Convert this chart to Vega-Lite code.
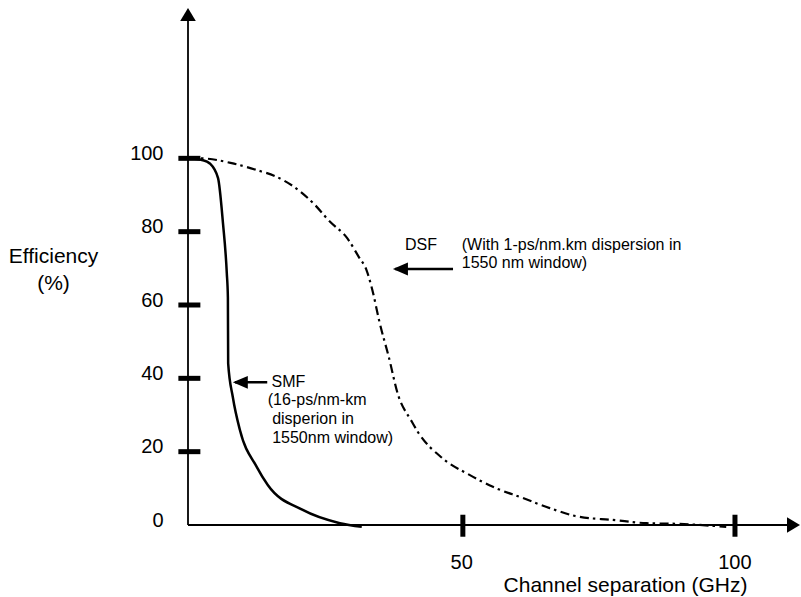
{
  "$schema": "https://vega.github.io/schema/vega-lite/v6.json",
  "width": 612,
  "height": 517,
  "autosize": {"type": "none"},
  "padding": {"left": 188, "top": 8, "right": 1, "bottom": 72},
  "background": "white",
  "config": {
    "view": {"stroke": null},
    "font": "Liberation Sans",
    "text": {"font": "Liberation Sans"}
  },
  "datasets": {
    "smf": [
      {"x": 0, "y": 100}, {"x": 2.7, "y": 99.5}, {"x": 4.0, "y": 98.6}, {"x": 5.5, "y": 94.6},
      {"x": 6.4, "y": 82.3}, {"x": 7.1, "y": 68.7}, {"x": 7.3, "y": 62.1}, {"x": 7.35, "y": 44.1},
      {"x": 8.2, "y": 34.9}, {"x": 9.5, "y": 25.9}, {"x": 12.6, "y": 15.8}, {"x": 14.6, "y": 10.9},
      {"x": 21.0, "y": 4.1}, {"x": 27.8, "y": 0.5}, {"x": 31.8, "y": -0.5}
    ],
    "dsf": [
      {"x": 0, "y": 100}, {"x": 2.2, "y": 100}, {"x": 8.0, "y": 98.7}, {"x": 12.6, "y": 96.8},
      {"x": 16.3, "y": 94.9}, {"x": 19.9, "y": 91.7}, {"x": 22.9, "y": 87.8}, {"x": 26.0, "y": 82.7},
      {"x": 29.1, "y": 78.3}, {"x": 31.3, "y": 73.0}, {"x": 32.6, "y": 69.8}, {"x": 33.7, "y": 64.3},
      {"x": 35.1, "y": 55.0}, {"x": 36.8, "y": 45.5}, {"x": 38.3, "y": 36.2}, {"x": 41.0, "y": 28.1},
      {"x": 42.1, "y": 25.3}, {"x": 46.5, "y": 18.3}, {"x": 51.6, "y": 13.6}, {"x": 55.8, "y": 10.4},
      {"x": 61.2, "y": 7.4}, {"x": 66.2, "y": 4.6}, {"x": 71.7, "y": 2.2}, {"x": 77.7, "y": 1.4},
      {"x": 83.9, "y": 0.5}, {"x": 89.9, "y": 0.3}, {"x": 98.5, "y": -0.5}
    ],
    "axislines": [
      {"x": 0, "y": 0, "x2": 110, "y2": 0},
      {"x": 0, "y": 0, "x2": 0, "y2": 138}
    ],
    "yticks": [
      {"x": 0.25, "y": 20}, {"x": 0.25, "y": 40}, {"x": 0.25, "y": 60}, {"x": 0.25, "y": 80}, {"x": 0.25, "y": 100}
    ],
    "xticks": [
      {"x": 50.3, "y": -0.2}, {"x": 100.1, "y": -0.2}
    ],
    "shafts": [
      {"x": 8.6, "x2": 14.5, "y": 38.9},
      {"x": 37.9, "x2": 48.5, "y": 69.8}
    ],
    "leftheads": [
      {"x": 8.2, "y": 38.9},
      {"x": 37.5, "y": 69.8}
    ],
    "righthead": [{"x": 112, "y": 0}],
    "uphead": [{"x": 0, "y": 141}],
    "labels": [
      {"x": 15.3, "y": 39.1, "text": "SMF"},
      {"x": 14.6, "y": 34.1, "text": "(16-ps/nm-km"},
      {"x": 15.4, "y": 28.9, "text": "disperion in"},
      {"x": 15.4, "y": 23.8, "text": "1550nm window)"},
      {"x": 39.7, "y": 76.3, "text": "DSF"},
      {"x": 50.1, "y": 76.3, "text": "(With 1-ps/nm.km dispersion in"},
      {"x": 50.1, "y": 71.4, "text": "1550 nm window)"}
    ]
  },
  "layer": [
    {
      "data": {"name": "smf"},
      "mark": {"type": "line", "color": "black", "strokeWidth": 2.5, "interpolate": "monotone", "clip": false},
      "encoding": {
        "x": {
          "field": "x", "type": "quantitative",
          "scale": {"domain": [0, 112], "nice": false, "zero": false},
          "axis": {
            "values": [50, 100], "domain": false, "ticks": false, "grid": false,
            "labelFont": "Liberation Sans", "labelFontSize": 20, "labelColor": "black",
            "labelBaseline": "alphabetic", "labelPadding": 43, "labelFlush": false,
            "title": "Channel separation (GHz)", "titleFont": "Liberation Sans",
            "titleFontSize": 21, "titleFontWeight": "normal", "titleColor": "black",
            "titleAlign": "center", "titleBaseline": "alphabetic", "titleAnchor": null,
            "titleX": 437, "titleY": 66
          }
        },
        "y": {
          "field": "y", "type": "quantitative",
          "scale": {"domain": [0, 141], "nice": false, "zero": false},
          "axis": {
            "values": [0, 20, 40, 60, 80, 100], "domain": false, "ticks": false, "grid": false,
            "labelFont": "Liberation Sans", "labelFontSize": 20, "labelColor": "black",
            "labelBaseline": "middle", "labelPadding": 25, "labelOffset": -5, "labelFlush": false,
            "title": ["Efficiency", "(%)"], "titleFont": "Liberation Sans",
            "titleFontSize": 21, "titleFontWeight": "normal", "titleColor": "black",
            "titleAngle": 0, "titleAlign": "center", "titleBaseline": "alphabetic",
            "titleLineHeight": 27, "titleAnchor": null,
            "titleX": -135, "titleY": 254
          }
        }
      }
    },
    {
      "data": {"name": "dsf"},
      "mark": {"type": "line", "color": "black", "strokeWidth": 2.2, "strokeDash": [9, 4, 2.5, 4.5], "interpolate": "monotone", "clip": false},
      "encoding": {
        "x": {"field": "x", "type": "quantitative"},
        "y": {"field": "y", "type": "quantitative"}
      }
    },
    {
      "data": {"name": "axislines"},
      "mark": {"type": "rule", "color": "black", "strokeWidth": 1.8, "clip": false},
      "encoding": {
        "x": {"field": "x", "type": "quantitative"},
        "y": {"field": "y", "type": "quantitative"},
        "x2": {"field": "x2"},
        "y2": {"field": "y2"}
      }
    },
    {
      "data": {"name": "yticks"},
      "mark": {"type": "tick", "orient": "horizontal", "color": "black", "size": 22, "thickness": 5, "opacity": 1},
      "encoding": {
        "x": {"field": "x", "type": "quantitative"},
        "y": {"field": "y", "type": "quantitative"}
      }
    },
    {
      "data": {"name": "xticks"},
      "mark": {"type": "tick", "orient": "vertical", "color": "black", "size": 22, "thickness": 5, "opacity": 1, "clip": false},
      "encoding": {
        "x": {"field": "x", "type": "quantitative"},
        "y": {"field": "y", "type": "quantitative"}
      }
    },
    {
      "data": {"name": "shafts"},
      "mark": {"type": "rule", "color": "black", "strokeWidth": 2.5},
      "encoding": {
        "x": {"field": "x", "type": "quantitative"},
        "x2": {"field": "x2"},
        "y": {"field": "y", "type": "quantitative"}
      }
    },
    {
      "data": {"name": "leftheads"},
      "mark": {"type": "point", "shape": "M0,0 L1,-0.43 L1,0.43 Z", "size": 900, "filled": true, "color": "black", "opacity": 1, "strokeWidth": 0},
      "encoding": {
        "x": {"field": "x", "type": "quantitative"},
        "y": {"field": "y", "type": "quantitative"}
      }
    },
    {
      "data": {"name": "righthead"},
      "mark": {"type": "point", "shape": "M0,0 L-1,-0.6 L-1,0.6 Z", "size": 676, "filled": true, "color": "black", "opacity": 1, "strokeWidth": 0, "clip": false},
      "encoding": {
        "x": {"field": "x", "type": "quantitative"},
        "y": {"field": "y", "type": "quantitative"}
      }
    },
    {
      "data": {"name": "uphead"},
      "mark": {"type": "point", "shape": "M0,0 L-0.6,1 L0.6,1 Z", "size": 676, "filled": true, "color": "black", "opacity": 1, "strokeWidth": 0, "clip": false},
      "encoding": {
        "x": {"field": "x", "type": "quantitative"},
        "y": {"field": "y", "type": "quantitative"}
      }
    },
    {
      "data": {"name": "labels"},
      "mark": {"type": "text", "align": "left", "baseline": "middle", "fontSize": 16, "color": "black", "font": "Liberation Sans"},
      "encoding": {
        "x": {"field": "x", "type": "quantitative"},
        "y": {"field": "y", "type": "quantitative"},
        "text": {"field": "text"}
      }
    }
  ]
}
